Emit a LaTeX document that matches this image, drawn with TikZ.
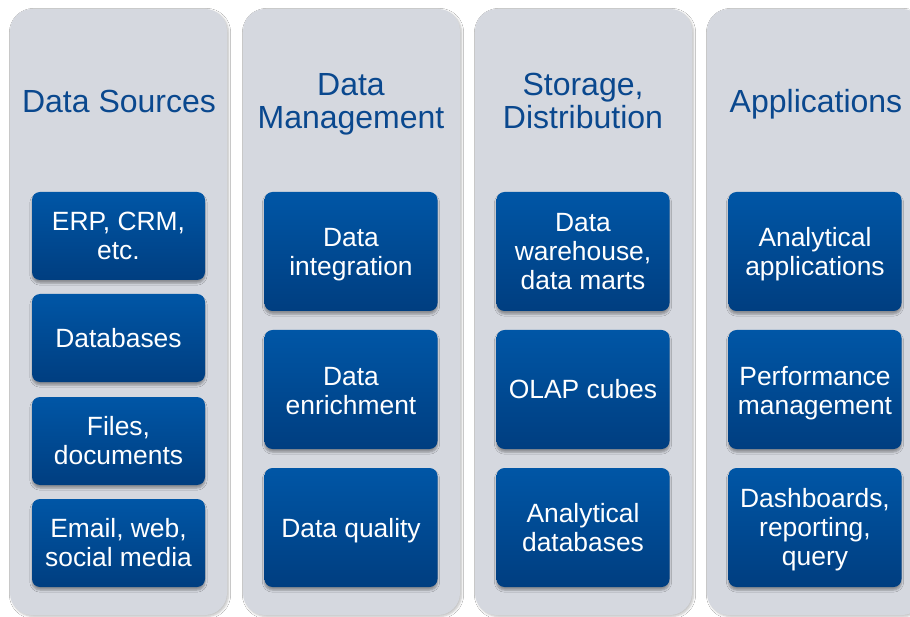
\documentclass[tikz,border=0pt]{standalone}
\usepackage{fontspec}
\setmainfont{Liberation Sans}
\usetikzlibrary{shadows,shadows.blur}
\definecolor{panelgray}{RGB}{213,216,223}
\definecolor{titleblue}{RGB}{10,72,142}
\definecolor{boxtop}{RGB}{0,86,166}
\definecolor{boxbot}{RGB}{0,62,128}
\newcommand{\lowered}[2]{\raisebox{-#1}[\height][\depth]{\begin{tabular}{@{}c@{}}#2\end{tabular}}}
\tikzset{
  panel/.style={fill=panelgray, draw=none, rounded corners=22pt,
    blur shadow={shadow xshift=1.5pt, shadow yshift=-1.5pt, shadow blur steps=5, shadow opacity=25}},
  coltitle/.style={text=titleblue, align=center, font=\fontsize{32}{33}\selectfont},
  bluebox/.style={rounded corners=8pt, top color=boxtop, bottom color=boxbot,
    minimum width=173pt, text=white, align=center, inner sep=2pt,
    font=\fontsize{26.4}{29}\selectfont,
    blur shadow={shadow xshift=0pt, shadow yshift=-3pt, shadow blur steps=5, shadow opacity=35}},
  smallbox/.style={bluebox, minimum height=88pt},
  bigbox/.style={bluebox, minimum height=119pt}
}
\begin{document}
\begin{tikzpicture}[x=1pt,y=-1pt]
\useasboundingbox (0,0) rectangle (910,617);
\fill[white] (0,0) rectangle (910,617);
% panels
\path[panel] (10,9) rectangle (227,615);
\path[panel] (243,9) rectangle (460,615);
\path[panel] (475,9) rectangle (692,615);
\path[panel] (707,9) rectangle (924,615);
% titles
\node[coltitle] (t1) at (119,101) {Data Sources};
\node[coltitle] (t2) at (351,104) {Data\\Management};
\node[coltitle] (t3) at (583,100.5) {Storage,\\Distribution};
\node[coltitle] (t4) at (816,104) {Applications};
% column 1
\node[smallbox] (a1) at (118.5,236) {ERP, CRM,\\etc.};
\node[smallbox] (a2) at (118.5,338) {Databases};
\node[smallbox] (a3) at (118.5,441) {Files,\\documents};
\node[smallbox] (a4) at (118.5,543) {Email, web,\\social media};
% column 2
\node[bigbox] (b1) at (351,251.5) {\lowered{4pt}{Data\\integration}};
\node[bigbox] (b2) at (351,389.5) {\lowered{4.5pt}{Data\\enrichment}};
\node[bigbox] (b3) at (351,527.5) {\lowered{4pt}{Data quality}};
% column 3
\node[bigbox] (c1) at (583,251.5) {Data\\warehouse,\\data marts};
\node[bigbox] (c2) at (583,389.5) {OLAP cubes};
\node[bigbox] (c3) at (583,527.5) {Analytical\\databases};
% column 4
\node[bigbox] (d1) at (815,251.5) {\lowered{4pt}{Analytical\\applications}};
\node[bigbox] (d2) at (815,389.5) {\lowered{4.5pt}{Performance\\management}};
\node[bigbox] (d3) at (815,527.5) {\lowered{3pt}{Dashboards,\\reporting,\\query}};
\end{tikzpicture}
\end{document}
